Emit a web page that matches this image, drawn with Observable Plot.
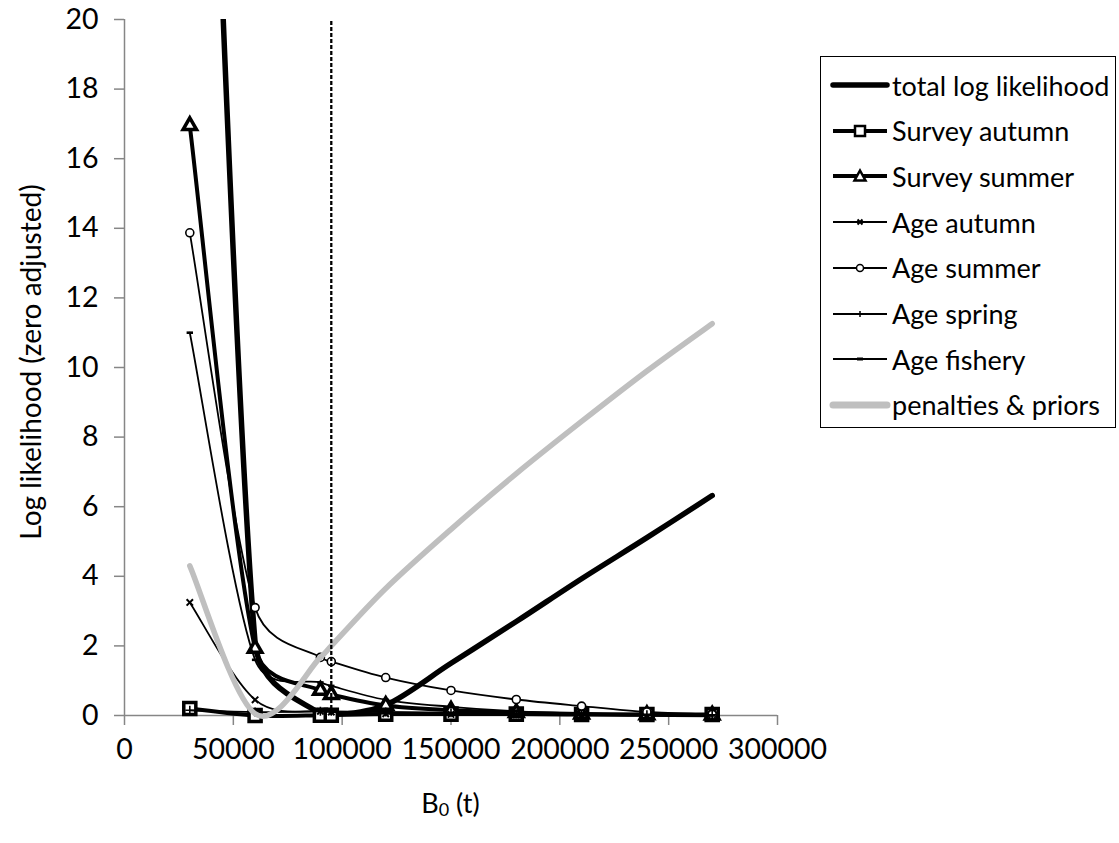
<!DOCTYPE html>
<html>
<head>
<meta charset="utf-8">
<script src="https://cdn.jsdelivr.net/npm/d3@7"></script>
<script src="https://cdn.jsdelivr.net/npm/@observablehq/plot@0.6"></script>
<style>
  html, body { margin: 0; padding: 0; background: #fff; }
  #wrap { position: relative; width: 1119px; height: 843px; font-family: Lato, "Liberation Sans", sans-serif; }
  #legend { position: absolute; left: 820px; top: 56px; width: 296px; height: 372px; border: 1.5px solid #000; box-sizing: border-box; background: #fff; }
  .row { position: absolute; left: 10px; height: 40px; display: flex; align-items: center; font-size: 27px; color: #000; white-space: nowrap; }
  .row svg { width: 58px; height: 24px; margin-right: 3px; overflow: visible; }
</style>
</head>
<body>
<div id="wrap">
  <div id="chart"></div>
  <div id="legend"></div>
</div>
<script>
// ---- data ----
const bValues      = [30000, 60000, 90000, 95000, 120000, 150000, 180000, 210000, 240000, 270000];
const totalLL      = [44.5, 2.1, 0.03, 0.0, 0.3, 1.5, 2.7, 3.93, 5.11, 6.32];
const surveyAutumn = [0.2, 0.0, 0.01, 0.01, 0.04, 0.04, 0.04, 0.03, 0.03, 0.03];
const surveySummer = [16.95, 1.93, 0.72, 0.6, 0.29, 0.15, 0.08, 0.04, 0.02, 0.01];
const ageAutumn    = [3.25, 0.45, 0.12, 0.1, 0.05, 0.03, 0.02, 0.01, 0.01, 0.0];
const ageSummer    = [13.87, 3.1, 1.67, 1.55, 1.09, 0.72, 0.46, 0.27, 0.1, 0.03];
const ageSpring    = [0.15, 0.1, 0.12, 0.12, 0.1, 0.08, 0.05, 0.03, 0.02, 0.02];
const ageFishery   = [11.0, 1.6, 0.95, 0.85, 0.45, 0.25, 0.12, 0.06, 0.02, 0.0];
const penalties    = [4.3, 0.05, 1.67, 2.0, 3.65, 5.35, 6.95, 8.45, 9.9, 11.26];
const refLineB     = [95000];
const xTicks       = [0, 50000, 100000, 150000, 200000, 250000, 300000];
const yTicks       = [0, 2, 4, 6, 8, 10, 12, 14, 16, 18, 20];
const seriesNames  = ["total log likelihood", "Survey autumn", "Survey summer", "Age autumn",
                      "Age summer", "Age spring", "Age fishery", "penalties & priors"];
const xTitle = "B", xTitleSub = "0", xTitleRest = " (t)";
const yTitle = "Log likelihood (zero adjusted)";

const rows = vals => bValues.map((b, i) => ({b, v: vals[i]}));

// spreadsheet-style smoothing: Bezier with 1/6 neighbour tangents, arms capped at half the segment length
function smoothCurve(context) {
  let pts;
  const dist = (a, b) => Math.hypot(b[0] - a[0], b[1] - a[1]);
  return {
    areaStart() {}, areaEnd() {},
    lineStart() { pts = []; },
    point(x, y) { pts.push([+x, +y]); },
    lineEnd() {
      const n = pts.length;
      if (!n) return;
      context.moveTo(pts[0][0], pts[0][1]);
      for (let i = 0; i < n - 1; i++) {
        const p0 = pts[i > 0 ? i - 1 : i], p1 = pts[i], p2 = pts[i + 1], p3 = pts[i + 2 < n ? i + 2 : i + 1];
        const d12 = dist(p1, p2), d02 = dist(p0, p2), d13 = dist(p1, p3);
        let f = 1 / 6, g = 1 / 6;
        if (d02 / 6 > d12 / 2) f = d12 / (2 * d02);
        if (d13 / 6 > d12 / 2) g = d12 / (2 * d13);
        context.bezierCurveTo(
          p1[0] + f * (p2[0] - p0[0]), p1[1] + f * (p2[1] - p0[1]),
          p2[0] - g * (p3[0] - p1[0]), p2[1] - g * (p3[1] - p1[1]),
          p2[0], p2[1]);
      }
    }
  };
}

const dashSymbol = { draw(ctx, size) { const w = 3.2, h = 1.3; ctx.moveTo(-w, -h); ctx.lineTo(w, -h); ctx.lineTo(w, h); ctx.lineTo(-w, h); ctx.closePath(); } };

const grey = "#868686";
const curve = smoothCurve;

const chart = Plot.plot({
  width: 1119,
  height: 843,
  marginLeft: 124,
  marginRight: 342,
  marginTop: 19,
  marginBottom: 128,
  style: { fontFamily: "Lato, 'Liberation Sans', sans-serif", color: "#000", background: "#fff", overflow: "visible" },
  x: { domain: [0, 300000] },
  y: { domain: [0, 20] },
  marks: [
    Plot.ruleY([0], { stroke: grey, strokeWidth: 1.5 }),
    Plot.ruleX([0], { stroke: grey, strokeWidth: 1.5 }),
    Plot.axisX(xTicks, { tickSize: 10, stroke: grey, strokeWidth: 1.5, fill: "#000", fontSize: 28.5, tickPadding: 13, tickFormat: d => String(d), label: null }),
    Plot.axisY(yTicks, { tickSize: 10, stroke: grey, strokeWidth: 1.5, fill: "#000", fontSize: 28.5, tickPadding: 16, tickFormat: d => String(d), label: null }),
    // total
    Plot.line(rows(totalLL), { x: "b", y: "v", curve, stroke: "#000", strokeWidth: 5.5, clip: true }),
    // survey autumn
    Plot.line(rows(surveyAutumn), { x: "b", y: "v", curve, stroke: "#000", strokeWidth: 4 }),
    Plot.dot(rows(surveyAutumn), { x: "b", y: "v", symbol: "square", r: 6.8, fill: "#fff", stroke: "#000", strokeWidth: 3.5 }),
    // survey summer
    Plot.line(rows(surveySummer), { x: "b", y: "v", curve, stroke: "#000", strokeWidth: 4 }),
    Plot.dot(rows(surveySummer), { x: "b", y: "v", symbol: "triangle", r: 5, fill: "#fff", stroke: "#000", strokeWidth: 3.5 }),
    // age autumn
    Plot.line(rows(ageAutumn), { x: "b", y: "v", curve, stroke: "#000", strokeWidth: 1.8 }),
    Plot.dot(rows(ageAutumn), { x: "b", y: "v", symbol: "times", r: 3, stroke: "#000", strokeWidth: 2 }),
    // age summer
    Plot.line(rows(ageSummer), { x: "b", y: "v", curve, stroke: "#000", strokeWidth: 1.8 }),
    Plot.dot(rows(ageSummer), { x: "b", y: "v", symbol: "circle", r: 4, fill: "#fff", stroke: "#000", strokeWidth: 1.6 }),
    // age spring
    Plot.line(rows(ageSpring), { x: "b", y: "v", curve, stroke: "#000", strokeWidth: 1.8 }),
    Plot.dot(rows(ageSpring), { x: "b", y: "v", symbol: "plus", r: 3, stroke: "#000", strokeWidth: 1.6 }),
    // age fishery
    Plot.line(rows(ageFishery), { x: "b", y: "v", curve, stroke: "#000", strokeWidth: 1.8 }),
    Plot.dot(rows(ageFishery), { x: "b", y: "v", symbol: dashSymbol, r: 3, fill: "#000", stroke: "none" }),
    // penalties & priors
    Plot.line(rows(penalties), { x: "b", y: "v", curve, stroke: "#bfbfbf", strokeWidth: 5.5 }),
    // reference line
    Plot.ruleX(refLineB, { y1: 0, y2: 20, stroke: "#000", strokeWidth: 2.3, strokeDasharray: "4,2" })
  ]
});
document.getElementById("chart").appendChild(chart);

// axis titles
const svg = d3.select(chart);
svg.append("text")
  .attr("transform", "translate(34,362) rotate(-90)")
  .attr("text-anchor", "middle")
  .attr("dominant-baseline", "middle")
  .attr("font-size", 28)
  .attr("fill", "#000")
  .text(yTitle);
const xt = svg.append("text")
  .attr("x", 450.5).attr("y", 813)
  .attr("text-anchor", "middle")
  .attr("font-size", 27)
  .attr("fill", "#000");
xt.append("tspan").text(xTitle);
xt.append("tspan").attr("font-size", 18).attr("dy", 3).text(xTitleSub);
xt.append("tspan").attr("dy", -3).text(xTitleRest);

// legend
const legendStyles = [
  { w: 5.5, m: null, stroke: "#000" },
  { w: 4, m: "square", stroke: "#000" },
  { w: 4, m: "triangle", stroke: "#000" },
  { w: 1.8, m: "times", stroke: "#000" },
  { w: 1.8, m: "circle", stroke: "#000" },
  { w: 1.8, m: "plus", stroke: "#000" },
  { w: 1.8, m: "dash", stroke: "#000" },
  { w: 7, m: null, stroke: "#bfbfbf" }
];
const legend = d3.select("#legend");
seriesNames.forEach((name, i) => {
  const st = legendStyles[i];
  const row = legend.append("div").attr("class", "row").style("top", (8 + i * 45.7) + "px");
  const s = row.append("svg").attr("viewBox", "0 0 58 24");
  s.append("line").attr("x1", 2).attr("x2", 56).attr("y1", 12).attr("y2", 12)
    .attr("stroke", st.stroke).attr("stroke-width", st.w).attr("stroke-linecap", st.m === null ? "round" : "butt");
  const g = s.append("g").attr("transform", "translate(29,12)");
  if (st.m === "square") g.append("rect").attr("x", -5).attr("y", -5).attr("width", 10).attr("height", 10).attr("fill", "#fff").attr("stroke", "#000").attr("stroke-width", 2.5);
  if (st.m === "triangle") g.append("path").attr("d", "M0,-5.5L5.5,4.5L-5.5,4.5Z").attr("fill", "#fff").attr("stroke", "#000").attr("stroke-width", 2.5);
  if (st.m === "times") g.append("path").attr("d", "M-2.5,-2.5L2.5,2.5M-2.5,2.5L2.5,-2.5").attr("stroke", "#000").attr("stroke-width", 2);
  if (st.m === "circle") g.append("circle").attr("r", 3.5).attr("fill", "#fff").attr("stroke", "#000").attr("stroke-width", 1.5);
  if (st.m === "plus") g.append("path").attr("d", "M-3,0L3,0M0,-3L0,3").attr("stroke", "#000").attr("stroke-width", 1.5);
  if (st.m === "dash") g.append("rect").attr("x", -3).attr("y", -1.5).attr("width", 6).attr("height", 3).attr("fill", "#000");
  row.append("span").text(name);
});
</script>
</body>
</html>
